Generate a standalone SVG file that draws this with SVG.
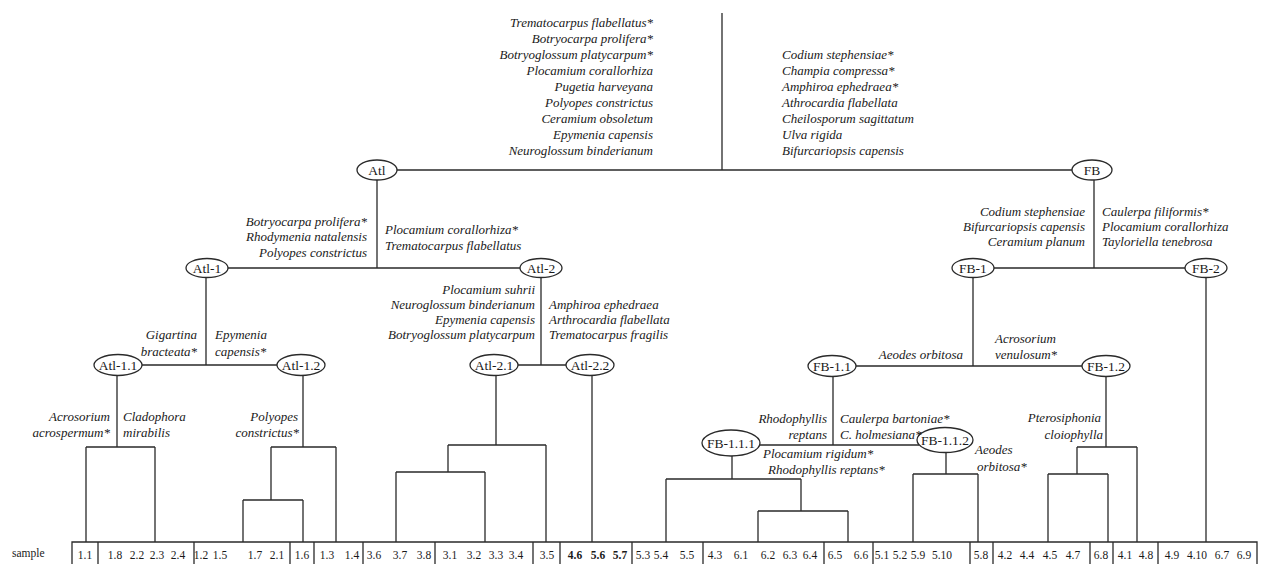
<svg xmlns="http://www.w3.org/2000/svg" width="1263" height="564" viewBox="0 0 1263 564">
<style>
.bg{fill:#ffffff}
.ln{stroke:#2a2a2a;stroke-width:1.3;fill:none}
.nd ellipse{fill:#ffffff;stroke:#2a2a2a;stroke-width:1.3}
.nd text{font-family:"Liberation Serif","Times New Roman",serif;font-size:13.5px;fill:#1a1a1a;text-anchor:middle}
.sp{font-family:"Liberation Serif","Times New Roman",serif;font-style:italic;font-size:13px;fill:#1a1a1a}
.e{text-anchor:end}
.m{text-anchor:middle}
.num{font-family:"Liberation Serif","Times New Roman",serif;font-size:11.5px;fill:#1a1a1a;text-anchor:middle}
.b{font-weight:bold}
.lab{font-family:"Liberation Serif","Times New Roman",serif;font-size:11.5px;fill:#1a1a1a}
</style>
<rect class="bg" x="0" y="0" width="1263" height="564"/>

<g id="connectors" class="ln">
  <!-- root -->
  <path d="M722,13V170M397,170H1072"/>
  <!-- Atl -->
  <path d="M377,180V268M228,268H520"/>
  <path d="M206,277.5V365M142,365H277"/>
  <path d="M117,375.5V447M86,447H155M86,447V542M155,447V542"/>
  <path d="M303,375.5V447M271,447H336M336,447V542M271,447V500M243,500H303M243,500V542M303,500V542"/>
  <path d="M541,277.5V365M518,365H566"/>
  <path d="M496,375.5V445M448,445H546M546,445V542M448,445V472M396,472H485M396,472V542M485,472V542"/>
  <path d="M592,375.5V542"/>
  <!-- FB -->
  <path d="M1094,180V268M994,268H1185"/>
  <path d="M1206,277.5V542"/>
  <path d="M973,277.5V366M856,366H1082"/>
  <path d="M833,376.5V445M760,445H919"/>
  <path d="M732,456V479M666,479H801M666,479V542M801,479V511M758,511H848M758,511V542M848,511V542"/>
  <path d="M946,452.5V474M913,474H978M913,474V542M978,474V542"/>
  <path d="M1106,376.5V447M1077,447H1137M1137,447V542M1077,447V474M1048,474H1108M1048,474V542M1108,474V542"/>
</g>

<g id="node-Atl" class="nd"><ellipse cx="377" cy="170" rx="20" ry="10"/><text x="377" y="174.5">Atl</text></g>
<g id="node-FB" class="nd"><ellipse cx="1092" cy="170" rx="20" ry="10"/><text x="1092" y="174.5">FB</text></g>
<g id="node-Atl-1" class="nd"><ellipse cx="207" cy="268" rx="21" ry="9.5"/><text x="207" y="272.5">Atl-1</text></g>
<g id="node-Atl-2" class="nd"><ellipse cx="541" cy="268" rx="21" ry="9.5"/><text x="541" y="272.5">Atl-2</text></g>
<g id="node-Atl-1-1" class="nd"><ellipse cx="118" cy="365" rx="24" ry="10.5"/><text x="118" y="369.5">Atl-1.1</text></g>
<g id="node-Atl-1-2" class="nd"><ellipse cx="301" cy="365" rx="24" ry="10.5"/><text x="301" y="369.5">Atl-1.2</text></g>
<g id="node-Atl-2-1" class="nd"><ellipse cx="494" cy="365" rx="24" ry="10.5"/><text x="494" y="369.5">Atl-2.1</text></g>
<g id="node-Atl-2-2" class="nd"><ellipse cx="590" cy="365" rx="24" ry="10.5"/><text x="590" y="369.5">Atl-2.2</text></g>
<g id="node-FB-1" class="nd"><ellipse cx="973" cy="268" rx="21" ry="9.5"/><text x="973" y="272.5">FB-1</text></g>
<g id="node-FB-2" class="nd"><ellipse cx="1206" cy="268" rx="21" ry="9.5"/><text x="1206" y="272.5">FB-2</text></g>
<g id="node-FB-1-1" class="nd"><ellipse cx="832" cy="366" rx="24" ry="10.5"/><text x="832" y="370.5">FB-1.1</text></g>
<g id="node-FB-1-2" class="nd"><ellipse cx="1106" cy="366" rx="24" ry="10.5"/><text x="1106" y="370.5">FB-1.2</text></g>
<g id="node-FB-1-1-1" class="nd"><ellipse cx="731" cy="443" rx="29" ry="13"/><text x="731" y="447.5">FB-1.1.1</text></g>
<g id="node-FB-1-1-2" class="nd"><ellipse cx="945" cy="440" rx="28" ry="12.5"/><text x="945" y="444.5">FB-1.1.2</text></g>

<g id="labels-top-Atl" class="sp e">
  <text x="653" y="27">Trematocarpus flabellatus*</text>
  <text x="653" y="43">Botryocarpa prolifera*</text>
  <text x="653" y="59">Botryoglossum platycarpum*</text>
  <text x="653" y="75">Plocamium corallorhiza</text>
  <text x="653" y="91">Pugetia harveyana</text>
  <text x="653" y="107">Polyopes constrictus</text>
  <text x="653" y="123">Ceramium obsoletum</text>
  <text x="653" y="139">Epymenia capensis</text>
  <text x="653" y="155">Neuroglossum binderianum</text>
</g>
<g id="labels-top-FB" class="sp">
  <text x="782" y="59">Codium stephensiae*</text>
  <text x="782" y="75">Champia compressa*</text>
  <text x="782" y="91">Amphiroa ephedraea*</text>
  <text x="782" y="107">Athrocardia flabellata</text>
  <text x="782" y="123">Cheilosporum sagittatum</text>
  <text x="782" y="139">Ulva rigida</text>
  <text x="782" y="155">Bifurcariopsis capensis</text>
</g>
<g id="labels-Atl" class="sp">
  <text class="e" x="367" y="226">Botryocarpa prolifera*</text>
  <text class="e" x="367" y="241">Rhodymenia natalensis</text>
  <text class="e" x="367" y="257">Polyopes constrictus</text>
  <text x="385" y="234">Plocamium corallorhiza*</text>
  <text x="385" y="250">Trematocarpus flabellatus</text>
</g>
<g id="labels-Atl-1" class="sp">
  <text class="e" x="197" y="339">Gigartina</text>
  <text class="e" x="197" y="356">bracteata*</text>
  <text x="215" y="339">Epymenia</text>
  <text x="215" y="356">capensis*</text>
</g>
<g id="labels-Atl-1-1" class="sp">
  <text class="e" x="110" y="421">Acrosorium</text>
  <text class="e" x="110" y="437">acrospermum*</text>
  <text x="123" y="421">Cladophora</text>
  <text x="123" y="437">mirabilis</text>
</g>
<g id="labels-Atl-1-2" class="sp e">
  <text x="298" y="421">Polyopes</text>
  <text x="299" y="437">constrictus*</text>
</g>
<g id="labels-Atl-2" class="sp">
  <text class="e" x="535" y="294">Plocamium suhrii</text>
  <text class="e" x="535" y="309">Neuroglossum binderianum</text>
  <text class="e" x="535" y="324">Epymenia capensis</text>
  <text class="e" x="535" y="339">Botryoglossum platycarpum</text>
  <text x="549" y="309">Amphiroa ephedraea</text>
  <text x="549" y="324">Arthrocardia flabellata</text>
  <text x="549" y="339">Trematocarpus fragilis</text>
</g>
<g id="labels-FB" class="sp">
  <text class="e" x="1085" y="216">Codium stephensiae</text>
  <text class="e" x="1085" y="231">Bifurcariopsis capensis</text>
  <text class="e" x="1085" y="246">Ceramium planum</text>
  <text x="1102" y="216">Caulerpa filiformis*</text>
  <text x="1102" y="231">Plocamium corallorhiza</text>
  <text x="1102" y="246">Tayloriella tenebrosa</text>
</g>
<g id="labels-FB-1" class="sp">
  <text class="e" x="963" y="359">Aeodes orbitosa</text>
  <text x="995" y="343">Acrosorium</text>
  <text x="995" y="359">venulosum*</text>
</g>
<g id="labels-FB-1-1" class="sp">
  <text class="e" x="827" y="423">Rhodophyllis</text>
  <text class="e" x="827" y="439">reptans</text>
  <text x="840" y="423">Caulerpa bartoniae*</text>
  <text x="840" y="439">C. holmesiana*</text>
  <text x="763" y="458">Plocamium rigidum*</text>
  <text x="768" y="474">Rhodophyllis reptans*</text>
  <text x="975" y="454">Aeodes</text>
  <text x="977" y="471">orbitosa*</text>
</g>
<g id="labels-FB-1-2" class="sp e">
  <text x="1101" y="422">Pterosiphonia</text>
  <text x="1103" y="439">cloiophylla</text>
</g>

<g id="sample-row">
  <text class="lab" x="12" y="557">sample</text>
  <path class="ln" d="M72,570V542H1257V570M98,542V570M194,542V570M290,542V570M314,542V570M363,542V570M435,542V570M533,542V570M560,542V570M632,542V570M703,542V570M824,542V570M873,542V570M970,542V570M993,542V570M1090,542V570M1113,542V570M1158,542V570"/>
  <g class="num">
    <text x="85" y="559">1.1</text>
    <text x="115" y="559">1.8</text><text x="137" y="559">2.2</text><text x="157" y="559">2.3</text><text x="178" y="559">2.4</text>
    <text x="201" y="559">1.2</text><text x="220" y="559">1.5</text><text x="255" y="559">1.7</text><text x="277" y="559">2.1</text>
    <text x="302" y="559">1.6</text>
    <text x="327" y="559">1.3</text><text x="352" y="559">1.4</text>
    <text x="374" y="559">3.6</text><text x="400" y="559">3.7</text><text x="424" y="559">3.8</text>
    <text x="450" y="559">3.1</text><text x="474" y="559">3.2</text><text x="496" y="559">3.3</text><text x="516" y="559">3.4</text>
    <text x="547" y="559">3.5</text>
    <text class="b" x="575" y="559">4.6</text><text class="b" x="598" y="559">5.6</text><text class="b" x="620" y="559">5.7</text>
    <text x="643" y="559">5.3</text><text x="661" y="559">5.4</text><text x="687" y="559">5.5</text>
    <text x="715" y="559">4.3</text><text x="741" y="559">6.1</text><text x="768" y="559">6.2</text><text x="790" y="559">6.3</text><text x="810" y="559">6.4</text>
    <text x="835" y="559">6.5</text><text x="861" y="559">6.6</text>
    <text x="882" y="559">5.1</text><text x="900" y="559">5.2</text><text x="918" y="559">5.9</text><text x="942" y="559">5.10</text>
    <text x="981" y="559">5.8</text>
    <text x="1005" y="559">4.2</text><text x="1027" y="559">4.4</text><text x="1050" y="559">4.5</text><text x="1073" y="559">4.7</text>
    <text x="1101" y="559">6.8</text>
    <text x="1125" y="559">4.1</text><text x="1146" y="559">4.8</text>
    <text x="1172" y="559">4.9</text><text x="1197" y="559">4.10</text><text x="1222" y="559">6.7</text><text x="1244" y="559">6.9</text>
  </g>
</g>
</svg>
